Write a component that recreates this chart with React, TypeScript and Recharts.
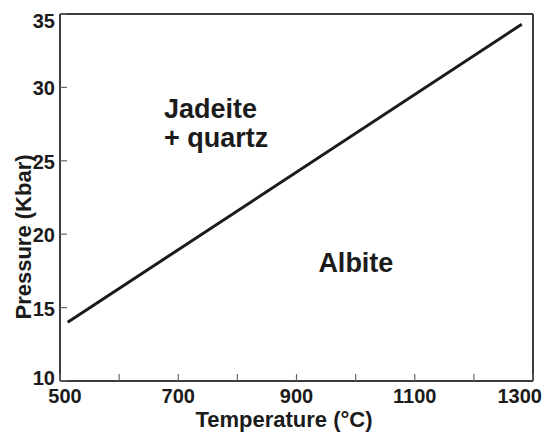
import React from 'react';
import { LineChart, Line, XAxis, YAxis, ReferenceLine, ReferenceDot } from 'recharts';

// phase boundary albite = jadeite + quartz
const boundaryT = [513, 1281];
const boundaryP = [14.0, 34.3];

const xTicks = [500, 600, 700, 800, 900, 1000, 1100, 1200, 1300];
const xLabeled = [500, 700, 900, 1100, 1300];
const yTicks = [10, 15, 20, 25, 30, 35];

const noteText = ['Jadeite', '+ quartz', 'Albite'];
const noteT = [676, 676, 937];
const noteP = [27.9, 25.95, 17.4];

const data = boundaryT.map((t, i) => ({ t, p: boundaryP[i] }));
const notes = noteText.map((text, i) => ({ text, t: noteT[i], p: noteP[i] }));

const font = '"Liberation Sans", Arial, Helvetica, sans-serif';
const ink = '#1b1b1b';
const frame = '#3c3c3c';

const XTick = (props: any) => {
  const { x, y, payload } = props;
  const v = payload.value;
  let tx = x;
  let anchor: 'middle' | 'end' = 'middle';
  if (v === 500) tx = x + 5;
  if (v === 1300) {
    tx = x + 9;
    anchor = 'end';
  }
  return (
    <g>
      <line x1={x} y1={y} x2={x} y2={y - 7} stroke="#666" strokeWidth={1.2} />
      {xLabeled.includes(v) && (
        <text x={tx} y={y + 22} textAnchor={anchor} fontFamily={font} fontWeight="bold" fontSize={20} fill={ink}>
          {v}
        </text>
      )}
    </g>
  );
};

const YTick = (props: any) => {
  const { x, y, payload } = props;
  const v = payload.value;
  const dy = v === 35 ? 14 : v === 10 ? 4 : 8;
  return (
    <g>
      <line x1={x} y1={y} x2={x + 7} y2={y} stroke="#666" strokeWidth={1.2} />
      <text x={x - 5} y={y + dy} textAnchor="end" fontFamily={font} fontWeight="bold" fontSize={20} fill={ink}>
        {v}
      </text>
    </g>
  );
};

export default function App() {
  return (
    <div style={{ position: 'absolute', left: 0, top: 0, width: 542, height: 432, background: '#fff', overflow: 'hidden' }}>
      <LineChart width={542} height={432} data={data} margin={{ top: 14, right: 9, bottom: 0, left: 0 }}>
        <XAxis
          dataKey="t"
          type="number"
          domain={[500, 1300]}
          ticks={xTicks}
          interval={0}
          height={51}
          tickSize={0}
          tickMargin={0}
          tickLine={false}
          axisLine={{ stroke: frame, strokeWidth: 2 }}
          tick={<XTick />}
          label={{
            content: () => (
              <text x={284} y={427} textAnchor="middle" fontFamily={font} fontWeight="bold" fontSize={22} fill={ink}>
                Temperature (°C)
              </text>
            ),
          }}
        />
        <YAxis
          type="number"
          domain={[10, 35]}
          ticks={yTicks}
          interval={0}
          width={60}
          tickSize={0}
          tickMargin={0}
          tickLine={false}
          axisLine={{ stroke: frame, strokeWidth: 2 }}
          tick={<YTick />}
          label={{
            content: () => (
              <text
                x={31}
                y={237}
                textAnchor="middle"
                transform="rotate(-90, 31, 237)"
                fontFamily={font}
                fontWeight="bold"
                fontSize={22}
                fill={ink}
              >
                Pressure (Kbar)
              </text>
            ),
          }}
        />
        <ReferenceLine y={35} stroke={frame} strokeWidth={2} />
        <ReferenceLine x={1300} stroke={frame} strokeWidth={2} />
        {notes.map((n) => (
          <ReferenceDot
            key={n.text}
            x={n.t}
            y={n.p}
            r={0}
            stroke="none"
            fill="none"
            label={{
              content: (lp: any) => (
                <text
                  x={lp.viewBox.x}
                  y={lp.viewBox.y}
                  textAnchor="start"
                  fontFamily={font}
                  fontWeight="bold"
                  fontSize={27}
                  fill={ink}
                >
                  {n.text}
                </text>
              ),
            }}
          />
        ))}
        <Line
          type="linear"
          dataKey="p"
          stroke={ink}
          strokeWidth={3}
          dot={false}
          activeDot={false}
          isAnimationActive={false}
        />
      </LineChart>
    </div>
  );
}
